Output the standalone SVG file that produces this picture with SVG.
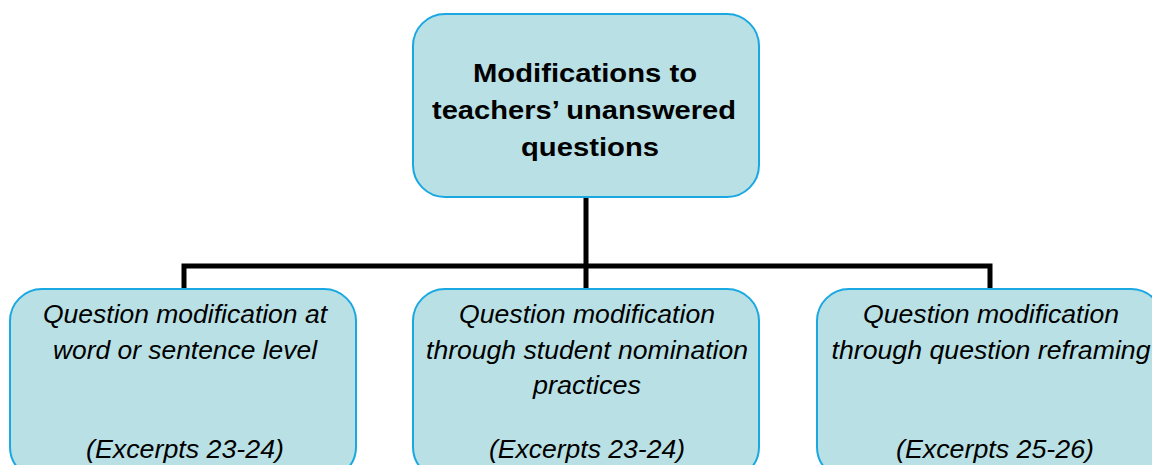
<svg xmlns="http://www.w3.org/2000/svg" width="1152" height="465" viewBox="0 0 1152 465">
<style>
.box{fill:#b9e0e4;stroke:#19a8e2;stroke-width:2}
.t{font-family:"Liberation Sans",Arial,sans-serif;fill:#000;text-anchor:middle}
.b{font-weight:bold;font-size:26px}
.i{font-style:italic;font-size:25px}
.c{fill:none;stroke:#000;stroke-width:5}
</style>
<rect width="1152" height="465" fill="#fff"/>
<g id="connectors">
<path class="c" d="M586 197V290M184 290V266H990V290"/>
</g>
<g id="root">
<rect class="box" x="413" y="14" width="346" height="183" rx="32"/>
<text class="t b" x="585" y="82" textLength="224" lengthAdjust="spacingAndGlyphs">Modifications to</text>
<text class="t b" x="584" y="119" textLength="304" lengthAdjust="spacingAndGlyphs">teachers’ unanswered</text>
<text class="t b" x="590" y="156" textLength="138" lengthAdjust="spacingAndGlyphs">questions</text>
</g>
<g id="n1">
<rect class="box" x="10" y="289" width="346" height="190" rx="32"/>
<text class="t i" x="185" y="323" textLength="284" lengthAdjust="spacingAndGlyphs">Question modification at</text>
<text class="t i" x="185" y="359" textLength="264" lengthAdjust="spacingAndGlyphs">word or sentence level</text>
<text class="t i" x="185" y="458" textLength="198" lengthAdjust="spacingAndGlyphs">(Excerpts 23-24)</text>
</g>
<g id="n2">
<rect class="box" x="413" y="289" width="346" height="190" rx="32"/>
<text class="t i" x="587" y="323" textLength="256" lengthAdjust="spacingAndGlyphs">Question modification</text>
<text class="t i" x="587" y="359" textLength="322" lengthAdjust="spacingAndGlyphs">through student nomination</text>
<text class="t i" x="587" y="394" textLength="108" lengthAdjust="spacingAndGlyphs">practices</text>
<text class="t i" x="587" y="458" textLength="196" lengthAdjust="spacingAndGlyphs">(Excerpts 23-24)</text>
</g>
<g id="n3">
<rect class="box" x="817" y="289" width="346" height="190" rx="32"/>
<text class="t i" x="991" y="323" textLength="256" lengthAdjust="spacingAndGlyphs">Question modification</text>
<text class="t i" x="991" y="359" textLength="319" lengthAdjust="spacingAndGlyphs">through question reframing</text>
<text class="t i" x="995" y="458" textLength="198" lengthAdjust="spacingAndGlyphs">(Excerpts 25-26)</text>
</g>
</svg>
